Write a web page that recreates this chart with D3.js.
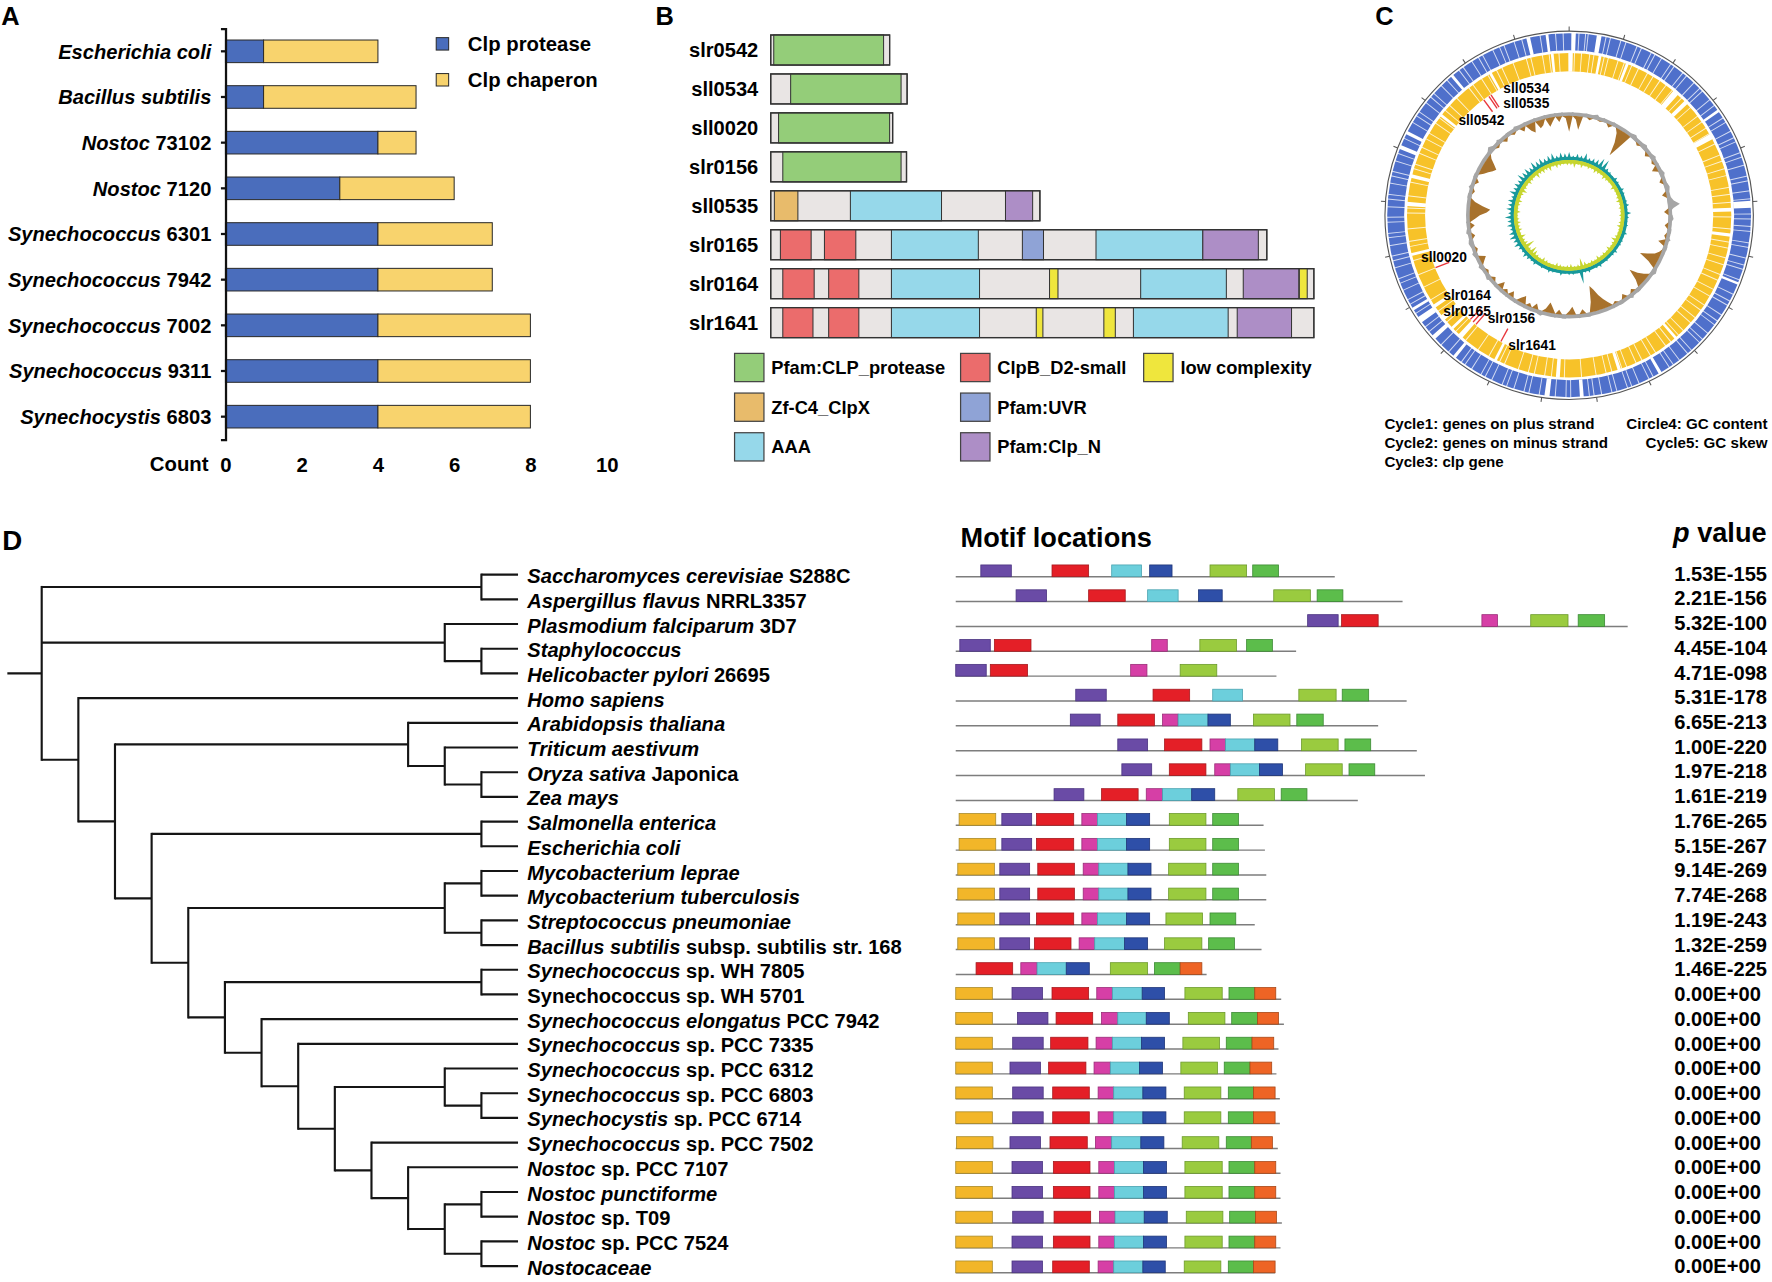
<!DOCTYPE html>
<html><head><meta charset="utf-8">
<script src="https://cdn.jsdelivr.net/npm/d3@7"></script>
<style>
html,body{margin:0;padding:0;background:#fff;}
svg{display:block;font-family:"Liberation Sans",Arial,Helvetica,sans-serif;font-weight:bold;}
</style></head><body>
<svg id="fig" width="1772" height="1282" viewBox="0 0 1568 1134.4"></svg>
<script>
// ================= DATA =================
// ---- Panel A ----
const speciesA = [["Escherichia coli",""],["Bacillus subtilis",""],["Nostoc"," 73102"],["Nostoc"," 7120"],["Synechococcus"," 6301"],["Synechococcus"," 7942"],["Synechococcus"," 7002"],["Synechococcus"," 9311"],["Synechocystis"," 6803"]];
const clpProtease = [1,1,4,3,4,4,4,4,4];
const clpChaperon = [3,4,1,3,3,3,4,4,4];
const countTicks = [0,2,4,6,8,10];
const seriesA = ["Clp protease","Clp chaperon"];

// ---- Panel B ----
const genesB = ["slr0542","sll0534","sll0020","slr0156","sll0535","slr0165","slr0164","slr1641"];
const geneLengthsB = [197,226,202,225,446,822,900,900];
const domainsB = [
  [["CLP",5,187]],
  [["CLP",33,216]],
  [["CLP",13,197]],
  [["CLP",20,216]],
  [["ZF",6,45],["AAA",132,283],["ClpN",389,434]],
  [["D2",16,67],["D2",89,141],["AAA",200,344],["UVR",417,452],["AAA",539,716],["ClpN",716,808]],
  [["D2",20,72],["D2",96,146],["AAA",200,346],["LC",462,476],["AAA",613,755],["ClpN",783,875],["LC",876,889]],
  [["D2",20,70],["D2",96,146],["AAA",200,346],["LC",440,451],["LC",552,571],["AAA",601,758],["ClpN",773,863]]
];
const domainTypes = ["CLP","D2","LC","ZF","UVR","AAA","ClpN"];
const domainNames = ["Pfam:CLP_protease","ClpB_D2-small","low complexity","Zf-C4_ClpX","Pfam:UVR","AAA","Pfam:Clp_N"];

// ---- Panel C ----
const clpGenes = ["sll0542","sll0534","sll0535","sll0020","slr0164","slr0165","slr0156","slr1641"];
const clpGeneAngles = [323.5,326,327,248.6,220.5,222,223.5,208.4];
// gene-track breaks (degrees): wider gaps [centre,width] and thin gene boundaries
const plusBigGaps = [[1.5,1.2],[9.5,1.5],[55,0.9],[86.5,2.2],[112,0.8],[150,1.0],[176,1.2],[187,1.6],[219,1.0],[228,1.4],[235,2.0],[239,0.9],[292,1.3],[297,1.1],[320,0.9],[347,1.2],[353,0.9]];
const plusThin = [0.8,3.1,5.2,6.0,11.7,13.1,16.5,18.2,21.9,23.4,26.8,28.1,30.5,33.9,35.2,38.6,40.1,43.3,45.8,47.0,50.6,52.9,57.7,59.3,62.5,64.8,66.2,69.9,71.4,74.0,77.6,79.1,82.3,84.8,89.6,91.2,93.5,95.1,98.7,100.2,103.6,105.9,107.3,110.8,115.7,118.1,119.6,123.2,125.5,127.0,130.4,132.9,134.3,137.8,139.4,142.7,145.1,146.6,152.5,154.0,157.4,159.9,161.3,164.8,166.4,169.7,172.1,173.6,179.5,181.0,184.4,189.5,192.8,194.4,197.7,200.1,201.6,205.2,207.5,209.0,212.4,214.9,216.3,221.4,224.7,230.3,232.2,237.4,240.8,242.4,245.7,248.1,249.6,253.2,255.5,257.0,260.4,262.9,264.3,267.8,269.4,272.7,275.1,276.6,280.2,282.5,284.0,287.4,289.9,295.0,300.7,303.1,304.6,308.2,310.5,312.0,315.4,317.9,322.8,324.4,327.7,330.1,331.6,335.2,337.5,339.0,342.4,344.9,350.8,355.7,358.1];
const minusBigGaps = [[0.5,1.6],[11,1.0],[21,1.0],[41,2.2],[46,1.5],[61,2.0],[88,1.4],[97,1.2],[139,1.0],[162,1.2],[184,1.4],[207,1.0],[222,1.8],[226,1.0],[231,2.0],[236,1.2],[256,1.0],[274,1.5],[284,1.3],[308,1.0],[331,1.0],[354,1.0]];
const minusThin = [1.9,4.4,7.3,8.8,12.5,14.0,17.6,19.9,22.7,25.3,28.9,31.2,34.0,36.7,39.5,43.8,48.4,52.3,54.9,57.5,59.8,63.9,68.2,70.5,73.3,75.8,80.1,82.6,85.4,90.6,94.8,99.5,101.7,105.2,107.8,111.4,113.6,117.2,119.9,123.6,125.8,129.1,131.5,135.3,137.6,141.2,143.5,147.8,149.9,153.3,155.6,159.2,161.0,164.7,166.8,170.4,175.6,181.7,186.3,188.7,192.4,194.6,198.3,203.5,205.4,209.7,214.1,219.6,224.3,228.9,233.8,238.6,243.7,248.5,253.8,258.9,260.7,265.2,270.8,272.6,276.9,281.8,286.7,288.4,292.5,294.8,298.1,300.4,304.6,306.9,310.3,312.6,316.2,321.8,323.6,327.3,329.9,333.4,335.5,339.8,344.7,346.3,350.5,352.9,356.4];
// GC content deviation and GC skew, one value every 2 degrees
const gcContent = [-14,2,-3,-12,1,2,-2,2,3,-1, 2,1,-3,2,1,-4,-12,-24,-14,2, 3,1,-2,2,3,1,-3,2,3,-2, 2,-5,2,3,1,-3,2,3,2,-4, 2,4,9,3,-4,2,3,1,-3,2, 2,-2,3,-6,2,2,-2,-5,-11,-17, -7,2,3,1,-4,-9,-16,-6,2,2, -3,3,1,-4,2,2,-2,2,-4,-8, -13,-19,-23,-9,2,2,-4,2,1,-7, -3,2,2,-4,2,-5,-9,-3,3,2, -5,2,-3,2,-7,-4,2,1,-5,2, -3,2,-6,2,1,-3,3,2,-2,2, 3,-3,-6,2,3,-2,2,3,2,-3, 3,2,-4,2,-5,-9,-15,-18,-11,-4, 2,2,-2,3,1,-3,2,2,-4,-7, -10,-12,-8,-3,2,4,2,-2,3,1, -3,2,2,-2,3,2,-4,2,-6,-9, 2,-7,-5,2,-8,-4,2,-5,2,-2];
const gcSkew = [6,-4,3,-6,5,-3,4,-5,7,-3, 4,-4,5,-3,6,-5,9,-4,10,-3, 4,-5,3,-4,2,-3,4,-2,3,-5, 2,-3,4,-3,3,-4,2,-5,3,-3, 4,-4,2,-3,5,-4,3,-3,2,-4, 3,-5,2,-3,4,-3,2,-4,3,-6, 3,-4,2,-3,4,-5,3,-3,2,-4, 3,-3,2,-5,4,-3,3,-4,2,-3, 4,-5,3,-9,12,-4,2,-3,3,-5, 3,-4,2,-3,4,-4,2,-5,3,-3, 4,-3,2,-4,3,-5,2,-3,4,-4, 3,-6,4,-8,5,-4,3,-10,4,-5, 6,-4,5,-6,7,-3,6,-5,4,-4, 6,-5,5,-4,7,-3,4,-5,6,-3, 5,-4,6,-5,4,-3,7,-4,5,-6, 6,-4,5,-3,8,-5,6,-4,7,-3, 5,-6,8,-4,6,-5,7,-4,5,-6, 6,-3,7,-5,4,-4,6,-3,5,-4];
const genomeTickCount = 21;
const captionsC = ["Cycle1: genes on plus strand","Circle4: GC content","Cycle2: genes on minus strand","Cycle5: GC skew","Cycle3: clp gene"];

// ---- Panel D ----
const leafNames = [["Saccharomyces cerevisiae"," S288C"],["Aspergillus flavus"," NRRL3357"],["Plasmodium falciparum"," 3D7"],["Staphylococcus",""],["Helicobacter pylori"," 26695"],["Homo sapiens",""],["Arabidopsis thaliana",""],["Triticum aestivum",""],["Oryza sativa"," Japonica"],["Zea mays",""],["Salmonella enterica",""],["Escherichia coli",""],["Mycobacterium leprae",""],["Mycobacterium tuberculosis",""],["Streptococcus pneumoniae",""],["Bacillus subtilis"," subsp. subtilis str. 168"],["Synechococcus"," sp. WH 7805"],["","Synechococcus sp. WH 5701"],["Synechococcus elongatus"," PCC 7942"],["Synechococcus"," sp. PCC 7335"],["Synechococcus"," sp. PCC 6312"],["Synechococcus"," sp. PCC 6803"],["Synechocystis"," sp. PCC 6714"],["Synechococcus"," sp. PCC 7502"],["Nostoc"," sp. PCC 7107"],["Nostoc punctiforme",""],["Nostoc"," sp. T09"],["Nostoc"," sp. PCC 7524"],["Nostocaceae",""]];
const pValues = ["1.53E-155","2.21E-156","5.32E-100","4.45E-104","4.71E-098","5.31E-178","6.65E-213","1.00E-220","1.97E-218","1.61E-219","1.76E-265","5.15E-267","9.14E-269","7.74E-268","1.19E-243","1.32E-259","1.46E-225","0.00E+00","0.00E+00","0.00E+00","0.00E+00","0.00E+00","0.00E+00","0.00E+00","0.00E+00","0.00E+00","0.00E+00","0.00E+00","0.00E+00"];
// tree topology (leaf indices)
const cladeP = [[25,26],[27,28]];
const cladeO = [24,cladeP];
const cladeN = [23,cladeO];
const cladeM = [20,[21,22]];
const cladeL = [cladeM,cladeN];
const cladeK = [19,cladeL];
const cladeJ = [18,cladeK];
const cladeI = [[16,17],cladeJ];
const cladeH = [[12,13],[14,15]];
const cladeG = [cladeH,cladeI];
const cladeF = [[10,11],cladeG];
const cladeE = [6,[7,[8,9]]];
const cladeD = [cladeE,cladeF];
const cladeC = [5,cladeD];
const treeTopology = [[0,1],[2,[3,4]],cladeC];
// motif sequence lengths and motif sites [type,start,end]
const seqLengths = [559,659,991,502,473,665,623,680,692,593,454,456,458,458,441,451,370,480,484,476,473,478,478,475,479,479,481,479,471];
const motifSites = [
 [["p",37,82],["r",142,196],["c",230,274],["b",286,319],["g",375,429],["G",438,476]],
 [["p",89,134],["r",196,250],["c",283,328],["b",358,393],["g",469,523],["G",533,571]],
 [["p",519,564],["r",569,623],["m",776,799],["g",848,903],["G",918,957]],
 [["p",6,51],["r",57,111],["m",289,312],["g",360,414],["G",429,467]],
 [["p",0,45],["r",51,106],["m",258,282],["g",331,385]],
 [["p",177,222],["r",291,345],["c",379,423],["g",506,561],["G",570,609]],
 [["p",169,213],["r",239,293],["m",305,328],["c",328,372],["b",372,405],["g",439,493],["G",503,542]],
 [["p",239,283],["r",308,363],["m",375,398],["c",398,441],["b",441,475],["g",510,564],["G",574,612]],
 [["p",245,289],["r",315,369],["m",382,405],["c",405,448],["b",448,482],["g",516,570],["G",580,618]],
 [["p",145,189],["r",215,269],["m",281,305],["c",305,348],["b",348,382],["g",416,470],["G",480,518]],
 [["y",5,59],["p",68,112],["r",119,174],["m",186,209],["c",209,252],["b",252,286],["g",315,369],["G",379,417]],
 [["y",5,59],["p",68,112],["r",119,174],["m",186,209],["c",209,252],["b",252,286],["g",315,369],["G",379,417]],
 [["y",3,57],["p",65,109],["r",121,175],["m",188,211],["c",211,254],["b",254,288],["g",314,369],["G",379,417]],
 [["y",3,57],["p",65,109],["r",121,175],["m",188,211],["c",211,254],["b",254,288],["g",314,369],["G",379,417]],
 [["y",3,57],["p",65,109],["r",119,174],["m",186,209],["c",209,252],["b",252,286],["g",310,364],["G",375,413]],
 [["y",3,57],["p",65,109],["r",116,170],["m",182,205],["c",205,249],["b",249,283],["g",308,363],["G",373,411]],
 [["r",30,84],["m",96,120],["c",120,163],["b",163,197],["g",228,283],["G",293,331],["o",331,363]],
 [["y",0,54],["p",83,128],["r",142,196],["m",208,231],["c",231,275],["b",275,308],["g",338,393],["G",403,441],["o",441,472]],
 [["y",0,54],["p",91,136],["r",148,202],["m",215,239],["c",239,281],["b",281,315],["g",343,397],["G",407,445],["o",445,476]],
 [["y",0,54],["p",84,129],["r",140,195],["m",207,231],["c",231,274],["b",274,308],["g",335,389],["G",399,437],["o",437,469]],
 [["y",0,54],["p",80,125],["r",137,192],["m",204,228],["c",228,271],["b",271,305],["g",332,386],["G",396,434],["o",434,466]],
 [["y",0,54],["p",84,129],["r",143,197],["m",210,233],["c",233,276],["b",276,310],["g",337,391],["G",402,439],["o",439,471]],
 [["y",0,54],["p",84,129],["r",143,197],["m",210,233],["c",233,276],["b",276,310],["g",337,391],["G",402,439],["o",439,471]],
 [["y",1,55],["p",80,125],["r",139,194],["m",206,230],["c",230,273],["b",273,307],["g",334,388],["G",399,436],["o",436,467]],
 [["y",0,54],["p",83,128],["r",144,198],["m",211,234],["c",234,277],["b",277,311],["g",338,393],["G",403,441],["o",441,472]],
 [["y",0,54],["p",83,128],["r",144,198],["m",211,234],["c",234,277],["b",277,311],["g",338,393],["G",403,441],["o",441,472]],
 [["y",0,54],["p",84,129],["r",145,199],["m",212,235],["c",235,278],["b",278,312],["g",340,394],["G",404,442],["o",442,473]],
 [["y",0,54],["p",83,128],["r",144,198],["m",211,234],["c",234,277],["b",277,311],["g",338,393],["G",403,441],["o",441,472]],
 [["y",0,54],["p",83,128],["r",143,197],["m",210,233],["c",233,276],["b",276,309],["g",337,391],["G",402,439],["o",439,471]]
];

// ================= STYLE / LAYOUT =================
const colA = {prot:"#4a6dbc", chap:"#f8d36d"};
const colB = {bg:"#e9e5e4", CLP:"#94cd79", D2:"#eb6c6c", LC:"#efe63d", ZF:"#e8bb6b", UVR:"#8fa3d6", AAA:"#96d8ea", ClpN:"#ad8ec6"};
const colMotif = {y:"#f2b629", p:"#6a4ba6", r:"#e41f27", m:"#d63fa6", c:"#6ccfdc", b:"#2e4fa8", g:"#9acb3f", G:"#5cbd4b", o:"#ee6425"};
const strokeMotif = {y:"#a88a2a", p:"#4a3380", r:"#a51a1f", m:"#9a2c78", c:"#4aa3b0", b:"#1f3578", g:"#6c9a2c", G:"#3c8a34", o:"#a84818"};

const svg = d3.select("#fig");
const rad = d => d*Math.PI/180;

[["A",1,22,22.5],["B",580,22,22.5],["C",1217,22,22.5],["D",2,487,24.5]].forEach(([t,x,y,s])=>{
  svg.append("text").attr("x",x).attr("y",y).attr("font-size",s).text(t);
});

// ================= PANEL A =================
(function(){
  const g = svg.append("g");
  const x = d3.scaleLinear().domain([0,10]).range([199.5,536.8]);
  const y = d3.scaleBand().domain(d3.range(speciesA.length)).range([25.2,388.9]).paddingInner(0.505).paddingOuter(0.2525);
  speciesA.forEach((s,i)=>{
    g.append("rect").attr("x",x(0)).attr("y",y(i)).attr("width",x(clpProtease[i])-x(0)).attr("height",y.bandwidth())
      .attr("fill",colA.prot).attr("stroke","#2a2a2a").attr("stroke-width",0.9);
    g.append("rect").attr("x",x(clpProtease[i])).attr("y",y(i)).attr("width",x(clpProtease[i]+clpChaperon[i])-x(clpProtease[i])).attr("height",y.bandwidth())
      .attr("fill",colA.chap).attr("stroke","#2a2a2a").attr("stroke-width",0.9);
  });
  const ay = g.append("g").attr("transform",`translate(${x(0)},0)`).call(d3.axisLeft(y).tickSize(4).tickSizeOuter(4).tickFormat(()=>""));
  ay.selectAll("path,line").attr("stroke","#111").attr("stroke-width",2);
  speciesA.forEach((s,i)=>{
    const t = g.append("text").attr("x",187).attr("y",y(i)+y.bandwidth()/2).attr("dy","0.36em").attr("text-anchor","end").attr("font-size",17.8);
    t.append("tspan").attr("font-style","italic").text(s[0]);
    if (s[1]) t.append("tspan").text(s[1]);
  });
  const ax = g.append("g").attr("transform","translate(0,405.3)").call(d3.axisBottom(x).tickValues(countTicks).tickSize(0).tickPadding(0));
  ax.select(".domain").remove();
  ax.selectAll("text").attr("font-size",18).attr("font-family",null).attr("font-weight","bold").attr("fill","#000");
  g.append("text").attr("x",184.5).attr("y",417).attr("text-anchor","end").attr("font-size",18).text("Count");
  seriesA.forEach((s,i)=>{
    g.append("rect").attr("x",386).attr("y",33.3+i*31.8).attr("width",11).attr("height",11)
      .attr("fill",i===0?colA.prot:colA.chap).attr("stroke","#2a2a2a").attr("stroke-width",0.9);
    g.append("text").attr("x",414).attr("y",38.8+i*31.8).attr("dy","0.36em").attr("font-size",18).text(s);
  });
})();

// ================= PANEL B =================
(function(){
  const g = svg.append("g");
  const x = d3.scaleLinear().domain([0,900]).range([682,1162.6]);
  const y = d3.scaleBand().domain(d3.range(genesB.length)).range([27,302.7]).paddingInner(0.23).paddingOuter(0.115);
  genesB.forEach((name,i)=>{
    g.append("text").attr("x",671).attr("y",y(i)+y.bandwidth()/2).attr("dy","0.36em").attr("text-anchor","end").attr("font-size",17.8).text(name);
    g.append("rect").attr("x",x(0)).attr("y",y(i)).attr("width",x(geneLengthsB[i])-x(0)).attr("height",y.bandwidth())
      .attr("fill",colB.bg).attr("stroke","#333").attr("stroke-width",1.1);
    domainsB[i].forEach(d=>{
      g.append("rect").attr("x",x(d[1])).attr("y",y(i)).attr("width",x(d[2])-x(d[1])).attr("height",y.bandwidth())
        .attr("fill",colB[d[0]]).attr("stroke","#333").attr("stroke-width",0.9);
    });
    g.append("rect").attr("x",x(0)).attr("y",y(i)).attr("width",x(geneLengthsB[i])-x(0)).attr("height",y.bandwidth())
      .attr("fill","none").attr("stroke","#333").attr("stroke-width",1.1);
  });
  const legPos = {CLP:[0,0],D2:[1,0],LC:[2,0],ZF:[0,1],UVR:[1,1],AAA:[0,2],ClpN:[1,2]};
  const colX = [650,850,1012], rowY = [325.2,360.3,395.4];
  domainTypes.forEach((k,i)=>{
    const [c,r] = legPos[k];
    g.append("rect").attr("x",colX[c]).attr("y",rowY[r]-12.5).attr("width",26).attr("height",25)
      .attr("fill",colB[k]).attr("stroke","#444").attr("stroke-width",1.1);
    g.append("text").attr("x",colX[c]+32.5).attr("y",rowY[r]).attr("dy","0.36em").attr("font-size",16.2).text(domainNames[i]);
  });
})();

// ================= PANEL C =================
(function(){
  const cx = 1388.5, cy = 190.5;
  const g = svg.append("g").attr("transform",`translate(${cx},${cy})`);
  const arc = d3.arc();
  const full = (ri,ro)=>arc({innerRadius:ri,outerRadius:ro,startAngle:0,endAngle:2*Math.PI});
  g.append("circle").attr("r",163).attr("fill","none").attr("stroke","#555").attr("stroke-width",1);
  const tickAng = d3.scaleLinear().domain([0,genomeTickCount]).range([0,360]);
  g.selectAll(".tk").data(d3.range(genomeTickCount)).join("line")
    .attr("x1",d=>163*Math.sin(rad(tickAng(d)))).attr("y1",d=>-163*Math.cos(rad(tickAng(d))))
    .attr("x2",d=>167*Math.sin(rad(tickAng(d)))).attr("y2",d=>-167*Math.cos(rad(tickAng(d))))
    .attr("stroke","#555").attr("stroke-width",0.9);
  const gapArc = (ri,ro)=>d=>arc({innerRadius:ri,outerRadius:ro,startAngle:rad(d[0]-d[1]/2),endAngle:rad(d[0]+d[1]/2)});
  g.append("path").attr("d",full(146,161)).attr("fill","#4f70cb");
  g.selectAll(".pt").data(plusThin.map(a=>[a,0.32])).join("path").attr("d",gapArc(145.5,161.5)).attr("fill","#fff").attr("opacity",0.75);
  g.selectAll(".pg").data(plusBigGaps).join("path").attr("d",gapArc(145.5,161.5)).attr("fill","#fff");
  g.append("path").attr("d",full(127.5,143.5)).attr("fill","#f7c229");
  g.selectAll(".mt").data(minusThin.map(a=>[a,0.35])).join("path").attr("d",gapArc(127,144)).attr("fill","#fff").attr("opacity",0.8);
  g.selectAll(".mg").data(minusBigGaps).join("path").attr("d",gapArc(127,144)).attr("fill","#fff");
  g.selectAll(".clp").data(clpGeneAngles).join("line")
    .attr("x1",d=>114*Math.sin(rad(d))).attr("y1",d=>-114*Math.cos(rad(d)))
    .attr("x2",d=>127*Math.sin(rad(d))).attr("y2",d=>-127*Math.cos(rad(d)))
    .attr("stroke","#e8363c").attr("stroke-width",1.2);
  // GC content
  const gcPts = gcContent.map((v,i)=>({a:i*360/gcContent.length,v})); gcPts.push({a:360,v:gcContent[0]});
  const rGC = d3.scaleLinear().domain([0,1]).range([88,89]);
  g.append("circle").attr("r",rGC(0)+1.5).attr("fill","none").attr("stroke","#a6a6a6").attr("stroke-width",3.5);
  g.append("path").datum(gcPts).attr("fill","#a6a6a6")
    .attr("d",d3.areaRadial().angle(d=>rad(d.a)).innerRadius(rGC(0)).outerRadius(d=>rGC(Math.max(0,d.v)+1.5)));
  g.append("path").datum(gcPts).attr("fill","#a8722c")
    .attr("d",d3.areaRadial().angle(d=>rad(d.a)).innerRadius(d=>rGC(Math.min(0,d.v))).outerRadius(rGC(0)));
  // GC skew
  const skPts = gcSkew.map((v,i)=>({a:i*360/gcSkew.length,v})); skPts.push({a:360,v:gcSkew[0]});
  const rSK = d3.scaleLinear().domain([0,1]).range([49,50]);
  g.append("circle").attr("r",rSK(0)+1.4).attr("fill","none").attr("stroke","#18999b").attr("stroke-width",2.8);
  g.append("circle").attr("r",rSK(0)-1.6).attr("fill","none").attr("stroke","#c6d52f").attr("stroke-width",3.2);
  g.append("path").datum(skPts).attr("fill","#18999b")
    .attr("d",d3.areaRadial().angle(d=>rad(d.a)).innerRadius(rSK(0)).outerRadius(d=>rSK(Math.max(0,d.v)+1)));
  g.append("path").datum(skPts).attr("fill","#c6d52f")
    .attr("d",d3.areaRadial().angle(d=>rad(d.a)).innerRadius(d=>rSK(Math.min(0,d.v)-1)).outerRadius(rSK(0)));
  const labelPos = {sll0534:[1330.3,81.9],sll0535:[1330.3,95.7],sll0542:[1290.5,111],sll0020:[1257.4,232],slr0164:[1277.2,265.3],slr0165:[1277.2,280],slr0156:[1316.4,286],slr1641:[1334.7,309.6]};
  clpGenes.forEach(n=>{
    svg.append("text").attr("x",labelPos[n][0]).attr("y",labelPos[n][1]).attr("font-size",12.2).text(n);
  });
  const capPos = [[1225,379.3,"start"],[1564,379.3,"end"],[1225,396,"start"],[1564,396,"end"],[1225,412.8,"start"]];
  captionsC.forEach((c,i)=>{
    svg.append("text").attr("x",capPos[i][0]).attr("y",capPos[i][1]).attr("text-anchor",capPos[i][2]).attr("font-size",13.4).text(c);
  });
})();

// ================= PANEL D =================
(function(){
  const g = svg.append("g");
  const root = d3.hierarchy(treeTopology, d=>Array.isArray(d)?d:null);
  d3.cluster().size([1,1]).separation(()=>1)(root);
  const n = leafNames.length;
  const yT = d3.scaleLinear().domain([0.5/n,(n-0.5)/n]).range([508.5,1120.3]);
  const xT = d3.scaleLinear().domain([0,1]).range([36.9,458.4]);
  const lineStyle = s=>s.attr("stroke","#151515").attr("stroke-width",1.9).attr("fill","none");
  root.each(node=>{
    if (!node.children) return;
    const ch = node.children;
    const nx = xT(node.y);
    g.append("line").attr("x1",nx).attr("x2",nx).attr("y1",yT(ch[0].x)-0.95).attr("y2",yT(ch[ch.length-1].x)+0.95).call(lineStyle);
    ch.forEach(c=>{
      g.append("line").attr("x1",nx).attr("x2",xT(c.y)).attr("y1",yT(c.x)).attr("y2",yT(c.x)).call(lineStyle);
    });
  });
  const rc = root.children;
  const ry = (yT(rc[0].x)+yT(rc[rc.length-1].x))/2;
  g.append("line").attr("x1",6.5).attr("x2",xT(0)).attr("y1",ry).attr("y2",ry).call(lineStyle);
  root.leaves().forEach(l=>{
    const nm = leafNames[l.data];
    const t = g.append("text").attr("x",466.6).attr("y",yT(l.x)+1.2).attr("dy","0.36em").attr("font-size",17.8);
    if (nm[0]) t.append("tspan").attr("font-style","italic").text(nm[0]);
    if (nm[1]) t.append("tspan").text(nm[1]);
  });
  g.append("text").attr("x",850).attr("y",484).attr("font-size",24).text("Motif locations");
  const pv = g.append("text").attr("x",1480.5).attr("y",479.5).attr("font-size",24);
  pv.append("tspan").attr("font-style","italic").text("p");
  pv.append("tspan").text(" value");
  const xM = d3.scaleLinear().domain([0,1000]).range([845.7,1445.7]);
  const yM = d3.scaleLinear().domain([0,28]).range([510.3,1126.2]);
  const boxH = 10.4;
  seqLengths.forEach((len,i)=>{
    g.append("line").attr("x1",xM(0)).attr("x2",xM(len)).attr("y1",yM(i)).attr("y2",yM(i))
      .attr("stroke","#7d7d7d").attr("stroke-width",1.3);
    motifSites[i].forEach(m=>{
      g.append("rect").attr("x",xM(m[1])).attr("y",yM(i)-boxH).attr("width",xM(m[2])-xM(m[1])).attr("height",boxH)
        .attr("fill",colMotif[m[0]]).attr("stroke",strokeMotif[m[0]]).attr("stroke-width",0.7);
    });
  });
  const yP = d3.scaleLinear().domain([0,28]).range([507.3,1120.3]);
  pValues.forEach((p,i)=>{
    g.append("text").attr("x",1481.5).attr("y",yP(i)).attr("dy","0.36em").attr("font-size",17.8).text(p);
  });
})();
</script>
</body></html>
